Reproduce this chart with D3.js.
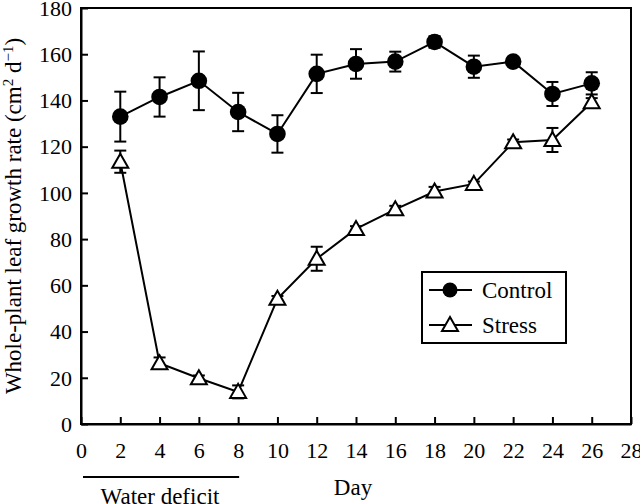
<!DOCTYPE html>
<html><head><meta charset="utf-8">
<script src="https://cdn.jsdelivr.net/npm/d3@7/dist/d3.min.js"></script>
<style>body{margin:0;background:#fff}svg{display:block}svg text{font-family:"Liberation Serif","Times New Roman","DejaVu Serif",serif !important;fill:#000}</style>
</head><body>
<svg id="c" width="640" height="504"></svg>
<script>
const days = [2,4,6,8,10,12,14,16,18,20,22,24,26];
const controlMean = [133,141.5,148.5,135,125.5,151.5,155.8,156.8,165.3,154.6,156.8,142.8,147.4];
const controlErr  = [10.8,8.5,12.7,8.3,8.1,8.3,6.4,4.3,2.5,4.8,1.2,5.2,4.8];
const stressMean  = [113.5,26.3,19.8,13.9,54.2,71.5,84.4,92.9,100.6,103.9,121.9,122.9,139.2];
const stressErr   = [4.8,2.5,1.2,2.8,1.2,5.2,1.2,1.5,2,1,1.2,5.2,1.8];
const xTicks = d3.range(0,29,2);
const yTicks = d3.range(0,181,20);

const FONT = '"Liberation Serif","Times New Roman","DejaVu Serif",serif';
const svg = d3.select("#c");
const L=81, R=631, T=8, B=424;
const x = d3.scaleLinear().domain([0,28]).range([L,R]);
const y = d3.scaleLinear().domain([0,180]).range([B,T]);
const sw = 2;

svg.append("rect").attr("x",L).attr("y",T).attr("width",R-L).attr("height",B-T)
  .attr("fill","none").attr("stroke","#000").attr("stroke-width",sw);

const xa = svg.append("g").attr("transform",`translate(0,${B})`)
  .call(d3.axisBottom(x).tickValues(xTicks).tickSizeInner(-7).tickSizeOuter(0).tickPadding(18));
const ya = svg.append("g").attr("transform",`translate(${L},0)`)
  .call(d3.axisLeft(y).tickValues(yTicks).tickSizeInner(-7).tickSizeOuter(0).tickPadding(9));
[xa,ya].forEach(g=>{
  g.attr("font-family",null).attr("font-size",null);
  g.select(".domain").attr("stroke","#000").attr("stroke-width",sw);
  g.selectAll(".tick line").attr("stroke","#000").attr("stroke-width",sw);
  g.selectAll(".tick text").style("font-size","22px").style("font-family",FONT);
});
xa.selectAll(".tick text").attr("dy","0.71em");
ya.selectAll(".tick text").attr("dy","0.33em");

svg.append("text").attr("transform",`translate(21,${(T+B)/2}) rotate(-90)`)
  .attr("text-anchor","middle").style("font-size","23px").style("font-family",FONT)
  .html('Whole-plant leaf growth rate (cm<tspan dy="-8" font-size="15">2</tspan><tspan dy="8"> d</tspan><tspan dy="-8" font-size="15">\u22121</tspan><tspan dy="8">)</tspan>');

svg.append("text").attr("x",353).attr("y",495).attr("text-anchor","middle").style("font-size","23px").style("font-family",FONT).text("Day");
svg.append("line").attr("x1",x(0)+2).attr("x2",x(8)+1).attr("y1",477).attr("y2",477).attr("stroke","#000").attr("stroke-width",sw);
svg.append("text").attr("x",160).attr("y",504).attr("text-anchor","middle").style("font-size","23px").style("font-family",FONT).text("Water deficit");

const line = d3.line().x(d=>x(d[0])).y(d=>y(d[1]));
function series(mean, err){
  const g = svg.append("g");
  g.append("path").datum(days.map((d,i)=>[d,mean[i]])).attr("d",line)
    .attr("fill","none").attr("stroke","#000").attr("stroke-width",sw);
  const eb = g.selectAll(".eb").data(days).enter().append("g");
  eb.append("line").attr("x1",d=>x(d)).attr("x2",d=>x(d))
    .attr("y1",(d,i)=>y(mean[i]+err[i])).attr("y2",(d,i)=>y(mean[i]-err[i]))
    .attr("stroke","#000").attr("stroke-width",sw);
  [1,-1].forEach(s=>{
    eb.append("line").attr("x1",d=>x(d)-6).attr("x2",d=>x(d)+6)
      .attr("y1",(d,i)=>y(mean[i]+s*err[i])).attr("y2",(d,i)=>y(mean[i]+s*err[i]))
      .attr("stroke","#000").attr("stroke-width",sw);
  });
  return g;
}
const tri = (cx,cy)=>`M${cx},${cy-8}L${cx+8},${cy+6}L${cx-8},${cy+6}Z`;
series(stressMean, stressErr).selectAll(".m").data(days).enter().append("path")
  .attr("d",(d,i)=>tri(x(d),y(stressMean[i]))).attr("fill","#fff").attr("stroke","#000").attr("stroke-width",sw);
series(controlMean, controlErr).selectAll(".m").data(days).enter().append("circle")
  .attr("cx",d=>x(d)).attr("cy",(d,i)=>y(controlMean[i])).attr("r",8.3).attr("fill","#000");

const lg = svg.append("g");
lg.append("rect").attr("x",422).attr("y",272).attr("width",144).attr("height",71)
  .attr("fill","#fff").attr("stroke","#000").attr("stroke-width",sw);
[["Control",290],["Stress",325]].forEach(([name,yy],k)=>{
  lg.append("line").attr("x1",429).attr("x2",472).attr("y1",yy).attr("y2",yy).attr("stroke","#000").attr("stroke-width",sw);
  if(k===0) lg.append("circle").attr("cx",450).attr("cy",yy).attr("r",7.5).attr("fill","#000");
  else lg.append("path").attr("d",tri(450,yy)).attr("fill","#fff").attr("stroke","#000").attr("stroke-width",sw);
  lg.append("text").attr("x",482).attr("y",yy+8).style("font-size","23px").style("font-family",FONT).text(name);
});
</script>
</body></html>
